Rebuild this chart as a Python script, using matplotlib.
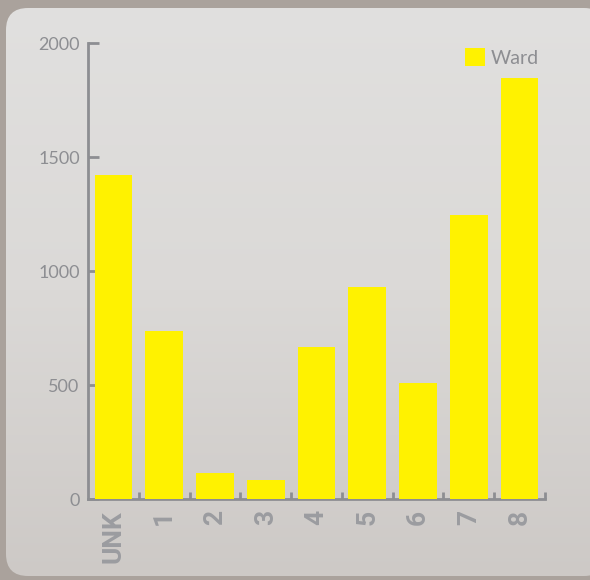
import numpy as np
import matplotlib
matplotlib.use('Agg')
from matplotlib import pyplot as plt
from matplotlib.patches import FancyBboxPatch, Patch

plt.rcParams['font.family'] = ['Lato', 'DejaVu Sans']

categories = ['UNK', '1', '2', '3', '4', '5', '6', '7', '8']
ward_counts = [1420, 735, 113, 84, 667, 928, 509, 1245, 1847]
yticks = [0, 500, 1000, 1500, 2000]

yellow = '#fff200'
grey = '#8d8e92'
label_grey = '#9b9ca0'

fig = plt.figure(figsize=(5.9, 5.8), dpi=100)
fig.patch.set_facecolor('#aaa29c')

# rounded stone-like panel with a soft vertical gradient
bg = fig.add_axes([0, 0, 1, 1], zorder=-10)
bg.set_axis_off()
bg.set_xlim(0, 590)
bg.set_ylim(0, 580)
panel = FancyBboxPatch((6, 4), 600, 568, boxstyle='round,pad=0,rounding_size=22',
                       transform=bg.transData, facecolor='none', edgecolor='none')
bg.add_patch(panel)
grad = np.linspace(0, 1, 256).reshape(-1, 1)
img = bg.imshow(grad, extent=[0, 590, 0, 580], origin='lower', aspect='auto',
                cmap=matplotlib.colors.LinearSegmentedColormap.from_list('stone', ['#cdc9c6', '#dbd9d7', '#e1e0df']))
img.set_clip_path(panel)

ax = fig.add_axes([88 / 590, 1 - 499 / 580, (545 - 88) / 590, (499 - 43) / 580])
ax.set_facecolor('none')

x = np.arange(len(categories))
ax.bar(x, ward_counts, width=0.74, color=yellow, label='Ward', zorder=3)

ax.set_xlim(-0.5, len(categories) - 0.5)
ax.set_ylim(0, 2000)

for s in ['top', 'right']:
    ax.spines[s].set_visible(False)
for s in ['left', 'bottom']:
    ax.spines[s].set_color(grey)
    ax.spines[s].set_linewidth(2)

ax.set_yticks(yticks)
ax.set_yticklabels([str(v) for v in yticks])
ax.tick_params(axis='y', direction='in', length=8, width=2, color=grey,
               labelcolor=grey, labelsize=13, pad=6)

ax.set_xticks(x)
ax.set_xticklabels(categories, rotation=90, fontweight='bold', family=['Roboto', 'DejaVu Sans'])
ax.set_xticks(x + 0.5, minor=True)
ax.tick_params(axis='x', which='major', length=0, labelcolor=label_grey,
               labelsize=19, pad=8)
ax.tick_params(axis='x', which='minor', direction='in', length=5, width=2, color=grey)

handle = Patch(facecolor=yellow, edgecolor='none')
leg = ax.legend([handle], ['Ward'], loc='upper right', bbox_to_anchor=(0.995, 0.997),
                frameon=False, fontsize=14, handlelength=1.0, handleheight=1.0,
                handletextpad=0.3, borderaxespad=0.0, borderpad=0.2)
for t in leg.get_texts():
    t.set_color(grey)

fig.savefig('out.png', dpi=100)
